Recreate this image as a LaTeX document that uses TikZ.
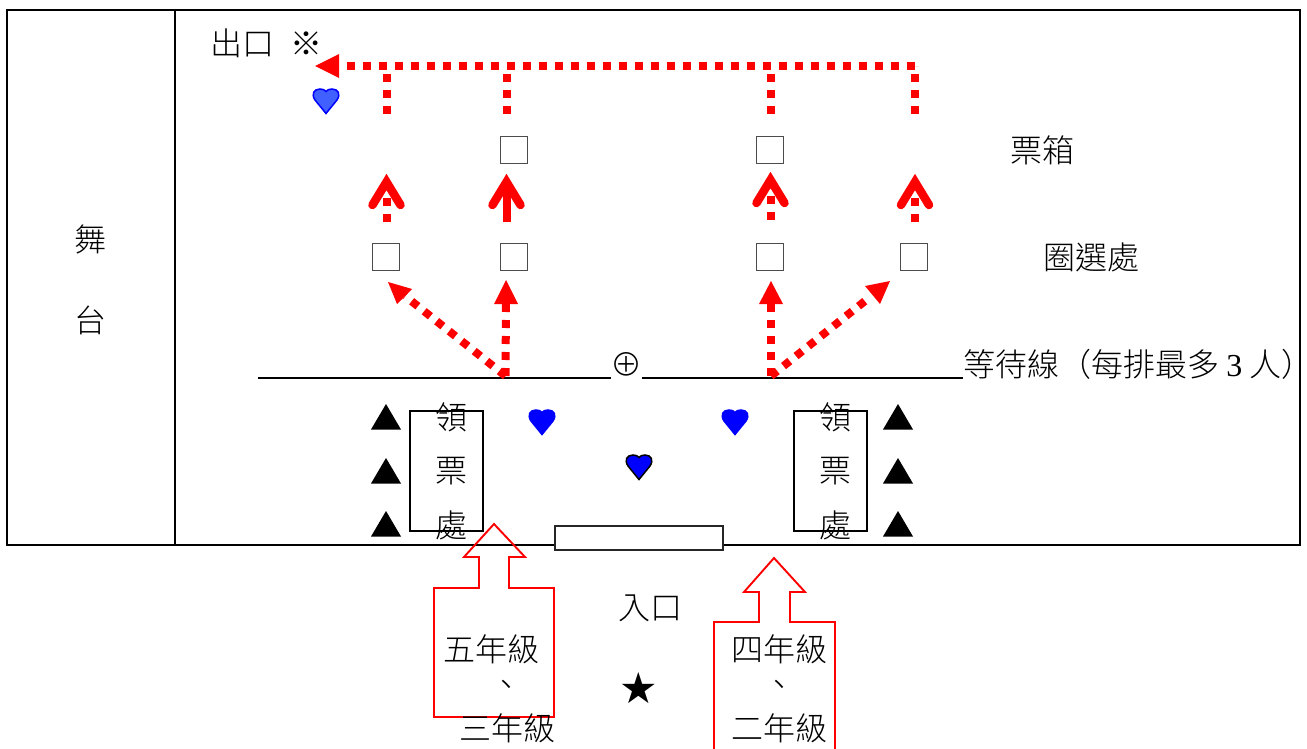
\documentclass[tikz,border=0pt]{standalone}
\usepackage{fontspec}
\newfontfamily\cjk{Noto Sans CJK TC Light}
\newfontfamily\sym{DejaVu Sans}
\newfontfamily\latn{Liberation Serif}
\usetikzlibrary{arrows.meta,shapes.geometric}
\definecolor{lightblue}{HTML}{4060FF}
\tikzset{
 x=1pt,y=-1pt,
 lbl/.style={inner sep=0pt,font=\cjk\fontsize{32}{32}\selectfont,text=black},
 frame/.style={draw=black,line width=2pt},
 votebox/.style={draw=black!70,line width=1.4pt,minimum size=27pt,inner sep=0pt},
 tickbox/.style={draw=black,line width=1.8pt,fill=none,inner sep=0pt},
 reddot/.style={draw=red,line width=8pt,dash pattern=on 8pt off 8pt},
 openhead/.style={draw=red,line width=8.5pt,line cap=round,line join=miter},
 blockarrow/.style={draw=red,line width=1.9pt,fill=none,line join=miter},
 tri/.style={fill=black,draw=none},
}
\newcommand{\myheart}[4]{%
 \fill[#3,draw=#4,line width=1.5pt,shift={(#1,#2)}]
  (0,12.5) -- (-11,-1) .. controls (-15,-7) and (-12,-12) .. (-6,-12)
  .. controls (-3,-12) and (-1,-11) .. (0,-9.5)
  .. controls (1,-11) and (3,-12) .. (6,-12)
  .. controls (12,-12) and (15,-7) .. (11,-1) -- cycle;}
\newcommand{\mytri}[2]{\fill[tri,shift={(#1,#2)}] (0,-13) -- (15,12.5) -- (-15,12.5) -- cycle;}
\begin{document}
\begin{tikzpicture}
\useasboundingbox (0,0) rectangle (1307,749);
% table
\draw[frame] (7,10) rectangle (1300,545);
\draw[frame] (175,10) -- (175,545);
% waiting line
\coordinate (wa) at (258,378); \coordinate (wb) at (611,378);
\coordinate (wc) at (642,378); \coordinate (wd) at (963,378);
\draw[frame] (wa) -- (wb);
\draw[frame] (wc) -- (wd);
% labels
\node[lbl] (exit) at (242,43) {出口};
\node[lbl] (mark) at (306,43.5) {※};
\node[lbl] (st1) at (90,239) {舞};
\node[lbl] (st2) at (90,320) {台};
\node[lbl] (boxlbl) at (1042,150) {票箱};
\node[lbl] (marklbl) at (1091,257) {圈選處};
\node[lbl] (plus) at (626,364) {⊕};
\node[lbl,anchor=west] (waitlbl) at (963,364) {等待線（每排最多 {\latn 3} 人{\addfontfeature{RawFeature=+halt}）}};
\node[lbl] (ent) at (650,608) {入口};
% vote boxes
\node[votebox] (b1) at (514,150) {};
\node[votebox] (b2) at (770,150) {};
\node[votebox] (m1) at (386,257) {};
\node[votebox] (m2) at (514,257) {};
\node[votebox] (m3) at (770,257) {};
\node[votebox] (m4) at (914,257) {};
% exit route
\coordinate (ex) at (315,66);
\coordinate (c4) at (915,66);
\coordinate (c1) at (386.5,72);
\coordinate (c2) at (506.5,72);
\coordinate (c3) at (770.5,72);
\coordinate (e1) at (386.5,114);
\coordinate (e2) at (506.5,114);
\coordinate (e3) at (770.5,114);
\coordinate (e4) at (915,114);
\draw[reddot] (e1) -- (c1);
\draw[reddot] (e2) -- (c2);
\draw[reddot] (e3) -- (c3);
\draw[reddot] (e4) -- (c4);
\draw[reddot] (c4) -- (347,66);
\fill[red] (ex) -- (339,54) -- (339,78) -- cycle;
% open arrows
\coordinate (t1) at (386.5,185); \coordinate (t2) at (506.5,185);
\coordinate (t3) at (770.5,183); \coordinate (t4) at (915,185);
\coordinate (s1) at (386.5,222); \coordinate (s2) at (506.5,222);
\coordinate (s3) at (770.5,220); \coordinate (s4) at (915,222);
\draw[reddot] (s1) -- (t1);
\draw[draw=red,line width=8pt] (s2) -- (t2);
\draw[reddot] (s3) -- (t3);
\draw[reddot] (s4) -- (t4);
\foreach \px/\py in {386.5/182,506.5/182,770.5/180,915/182}{
 \draw[openhead] (\px-14,\py+23) -- (\px,\py) -- (\px+14,\py+23);
}
% waiting-line arrows
\coordinate (o1) at (505.5,376); \coordinate (o2) at (771,376);
\coordinate (g1) at (388,282); \coordinate (g2) at (506,280);
\coordinate (g3) at (771,281); \coordinate (g4) at (890,281);
\draw[reddot] (o1) -- (405,296);
\draw[reddot] (o1) -- (506,300);
\draw[reddot] (o2) -- (771,300);
\draw[reddot] (o2) -- (870,297);
\fill[red] (g1) -- (412,289) -- (397,304) -- cycle;
\fill[red] (g2) -- (518,304) -- (494,304) -- cycle;
\fill[red] (g3) -- (783,304) -- (759,304) -- cycle;
\fill[red] (g4) -- (880,304) -- (865,286) -- cycle;
% hearts
\myheart{326}{101}{lightblue}{blue}
\myheart{542}{422}{blue}{blue}
\myheart{735}{422}{blue}{blue}
\myheart{639}{467}{blue}{black}
% triangles
\mytri{386}{417}\mytri{386}{471}\mytri{386}{524}
\mytri{898}{417}\mytri{898}{471}\mytri{898}{524}
% ticket desks
\node[tickbox,minimum width=73pt,minimum height=120pt] (dl) at (446.5,471) {};
\node[tickbox,minimum width=73pt,minimum height=120pt] (dr) at (830.5,471) {};
\node[lbl] at (451,417) (dl1) {領};
\node[lbl] at (451,471) (dl2) {票};
\node[lbl] at (451,525) (dl3) {處};
\node[lbl] at (835,417) (dr1) {領};
\node[lbl] at (835,471) (dr2) {票};
\node[lbl] at (835,525) (dr3) {處};
% door
\node[draw=black!85,fill=white,line width=1.8pt,minimum width=168pt,minimum height=24pt,inner sep=0pt] (door) at (639,538) {};
% block arrows
\draw[blockarrow] (494,524) -- (525,557) -- (509,557) -- (509,588) -- (554,588) -- (554,717) -- (434,717) -- (434,588) -- (479,588) -- (479,557) -- (464,557) -- cycle;
\draw[blockarrow] (774,558) -- (805,592) -- (790,592) -- (790,622) -- (835,622) -- (835,760) -- (714,760) -- (714,622) -- (759,622) -- (759,592) -- (744,592) -- cycle;
\node[lbl] (g5) at (491,649) {五年級};
\node[lbl] (g5b) at (506,688) {、};
\node[lbl] (g3b) at (507,728) {三年級};
\node[lbl] (g4b) at (779,649) {四年級};
\node[lbl] (g4c) at (779,688) {、};
\node[lbl] (g2b) at (779,728) {二年級};
\node[inner sep=0pt,font=\sym\fontsize{43}{43}\selectfont] (star) at (639,688) {★};
\end{tikzpicture}
\end{document}
